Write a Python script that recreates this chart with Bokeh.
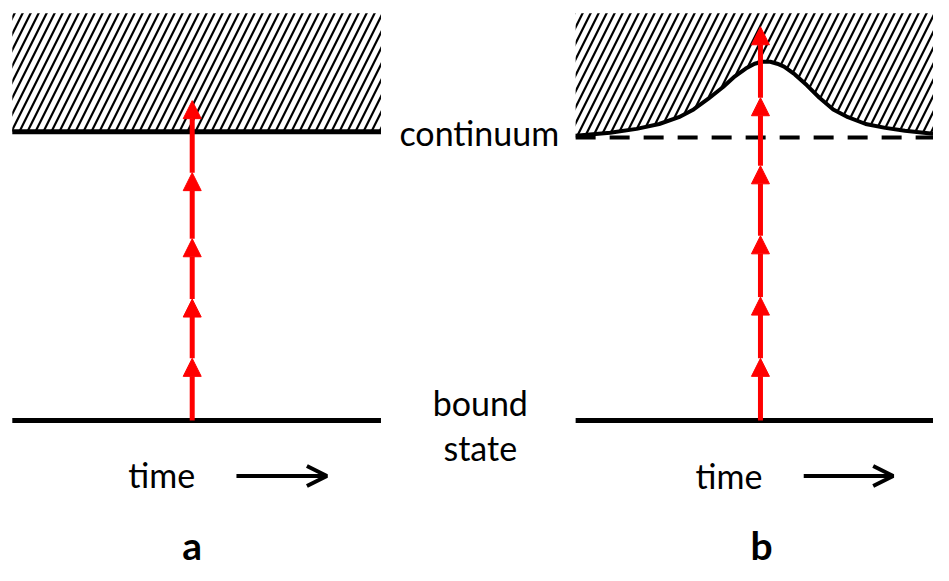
from bokeh.plotting import figure
from bokeh.models import Range1d, Arrow, NormalHead, OpenHead, ColumnDataSource
from bokeh.core.properties import value
from bokeh.embed import file_html
from bokeh.resources import INLINE

# ---- diagram data (image-pixel coordinates, y grows downward) ----
hatch_top = 13
bound_level = 432
continuum_a = 135
continuum_b = 141
panel_a_x = [12, 387]
panel_b_x = [585, 949]
pump_x_a = 195
pump_x_b = 773
heads_a = [368, 307, 245, 177, 103]
heads_b = [368, 305, 242, 170, 100, 27]
curve_x = [585, 620, 647, 670, 690, 705, 720, 735, 747, 758, 767, 775, 783, 790, 797, 808, 820, 833, 847, 862, 880, 900, 920, 949]
curve_y = [139, 136, 132, 127, 120, 112, 101, 89, 78, 70, 65, 63, 63, 65, 68, 76, 87, 100, 112, 120, 127, 131, 134, 137]
time_arrow_a = [240, 332]
time_arrow_b = [817, 908]
time_arrow_y = 489
labels = ["continuum", "bound", "state", "time", "time", "a", "b"]
label_x = [487, 488, 488, 164, 741, 195, 774]
label_y = [136, 413, 460, 487, 488, 560, 560]
label_bold = [False, False, False, False, False, True, True]

p = figure(width=933, height=565, x_range=Range1d(0, 949), y_range=Range1d(581, 0),
           output_backend="svg", toolbar_location=None, min_border=0)
p.axis.visible = False
p.grid.visible = False
p.outline_line_color = None
p.background_fill_color = "white"

# hatched continuum, panel a
p.quad(left=[panel_a_x[0]], right=[panel_a_x[1]], top=[hatch_top], bottom=[continuum_a],
       fill_alpha=0, line_color=None, hatch_pattern="/", hatch_color="black",
       hatch_scale=16, hatch_weight=2.2)
# hatched continuum, panel b (lowered by field)
p.varea(x=curve_x, y1=[hatch_top] * len(curve_x), y2=curve_y, fill_alpha=0,
        hatch_pattern="/", hatch_color="black", hatch_scale=16, hatch_weight=2.2)

# levels
p.line(panel_a_x, [continuum_a, continuum_a], line_color="black", line_width=5)
p.line(panel_a_x, [bound_level, bound_level], line_color="black", line_width=5)
p.line(panel_b_x, [bound_level, bound_level], line_color="black", line_width=5)
p.line(panel_b_x, [continuum_b, continuum_b], line_color="black", line_width=4, line_dash="20 14")
p.line(curve_x, curve_y, line_color="black", line_width=4)

def pump(xpos, heads):
    starts = [bound_level] + heads[:-1]
    src = ColumnDataSource(dict(x0=[xpos] * len(heads), y0=starts,
                                x1=[xpos] * len(heads), y1=heads))
    p.add_layout(Arrow(x_start="x0", y_start="y0", x_end="x1", y_end="y1", source=src,
                       line_color="red", line_width=5,
                       end=NormalHead(size=18, fill_color="red", line_color="red", line_width=1)))

pump(pump_x_a, heads_a)
pump(pump_x_b, heads_b)

for xs in (time_arrow_a, time_arrow_b):
    p.add_layout(Arrow(x_start=xs[0], y_start=time_arrow_y, x_end=xs[1], y_end=time_arrow_y,
                       line_color="black", line_width=4,
                       end=OpenHead(size=20, line_color="black", line_width=4)))

normal = [i for i, b in enumerate(label_bold) if not b]
bold = [i for i, b in enumerate(label_bold) if b]
p.text(x=[label_x[i] for i in normal], y=[label_y[i] for i in normal],
       text=[labels[i] for i in normal], text_font=value("Lato"), text_font_size="34px",
       text_align="center", text_baseline="alphabetic", text_color="black")
p.text(x=[label_x[i] for i in bold], y=[label_y[i] for i in bold],
       text=[labels[i] for i in bold], text_font=value("Lato"), text_font_size="39px",
       text_font_style="bold", text_align="center", text_baseline="alphabetic", text_color="black")

open("out.html", "w").write(file_html(p, INLINE))
